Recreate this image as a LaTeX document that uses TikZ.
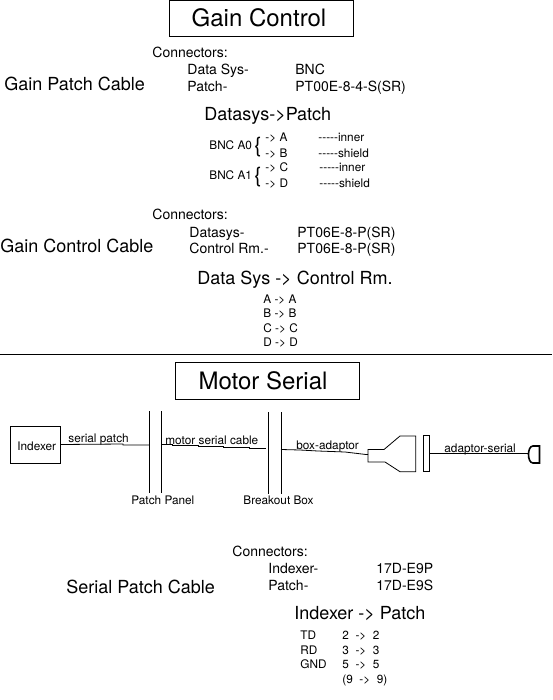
\documentclass[tikz,border=0pt]{standalone}
\usepackage{fontspec}
\setmainfont[Ligatures=TeXOff]{TeX Gyre Heros}
\begin{document}
\begin{tikzpicture}[
    x=1pt, y=-1pt,
    line width=0.8pt,
    txt/.style={anchor=base west, inner sep=0pt},
    small/.style={txt, font=\fontsize{11.8}{13}\selectfont},
    medium/.style={txt, font=\fontsize{14}{16}\selectfont},
    large/.style={txt, font=\fontsize{18}{20}\selectfont},
    title/.style={anchor=base, font=\fontsize{24}{28}\selectfont},
    titlebox/.style={draw, minimum width=184pt, minimum height=#1, inner sep=0pt},
    bar/.style={line width=0.9pt}
]
    \useasboundingbox (0, 0) rectangle (552, 700);

    % Gain Control
    \node[titlebox=36pt] (gain_box) at (261.5, 18.5) {};
    \node[title] (gain_title) at (259, 27) {Gain Control};
    \node[large]  (patch_cable) at (4, 91) {Gain Patch Cable};
    \node[medium] (conn1) at (152, 58) {Connectors:};
    \node[medium] (conn1a) at (187, 75) {Data Sys-};
    \node[medium] (conn1b) at (295, 75) {BNC};
    \node[medium] (conn1c) at (187, 92) {Patch-};
    \node[medium] (conn1d) at (295, 92) {PT00E-8-4-S(SR)};
    \node[large]  (patch_head) at (204, 121) {Datasys->Patch};

    \node[small] (bnc0) at (209, 150) {BNC A0};
    \node[small] (bnc1) at (209, 180) {BNC A1};
    \node[txt, font=\fontsize{21}{24}\selectfont] (brace0) at (254, 153) {\{};
    \node[txt, font=\fontsize{21}{24}\selectfont] (brace1) at (254, 183) {\{};
    \node[small] (pinA) at (265, 142) {-> A};
    \node[small] (pinB) at (265, 158) {-> B};
    \node[small] (pinC) at (265, 172) {-> C};
    \node[small] (pinD) at (265, 188) {-> D};
    \node[small] (wireA) at (318, 142) {-----inner};
    \node[small] (wireB) at (318, 158) {-----shield};
    \node[small] (wireC) at (319, 172) {-----inner};
    \node[small] (wireD) at (319, 188) {-----shield};

    % Gain control cable
    \node[large]  (control_cable) at (0, 253) {Gain Control Cable};
    \node[medium] (conn2) at (152, 220) {Connectors:};
    \node[medium] (conn2a) at (189, 237) {Datasys-};
    \node[medium] (conn2b) at (297, 237) {PT06E-8-P(SR)};
    \node[medium] (conn2c) at (189, 254) {Control Rm.-};
    \node[medium] (conn2d) at (297, 254) {PT06E-8-P(SR)};
    \node[large]  (control_head) at (197, 284) {Data Sys -> Control Rm.};
    \node[small] (mapA) at (263, 303) {A -> A};
    \node[small] (mapB) at (263, 317) {B -> B};
    \node[small] (mapC) at (263, 332) {C -> C};
    \node[small] (mapD) at (263, 346) {D -> D};

    \coordinate (rule_l) at (0, 354);
    \coordinate (rule_r) at (552, 354);
    \draw (rule_l) -- (rule_r);

    % Motor Serial
    \node[titlebox=36.5pt] (motor_box) at (267.5, 380.8) {};
    \node[title] (motor_title) at (263, 389.5) {Motor Serial};

    \coordinate (panel1_t) at (149.5, 411);
    \coordinate (panel1_b) at (149.5, 493);
    \coordinate (panel2_t) at (161.5, 411);
    \coordinate (panel2_b) at (161.5, 493);
    \coordinate (box_t) at (268.5, 412);
    \coordinate (box_b) at (268.5, 494);
    \coordinate (box2_t) at (281, 412);
    \coordinate (box2_b) at (281, 494);
    \draw[bar] (panel1_t) -- (panel1_b);
    \draw[bar] (panel2_t) -- (panel2_b);
    \draw[bar] (box_t) -- (box_b);
    \draw[bar] (box2_t) -- (box2_b);

    \node[draw, minimum width=50pt, minimum height=37pt, inner sep=0pt] (indexer) at (35, 444.5) {};
    \node[small] (indexer_label) at (17, 450) {Indexer};

    % Connector at the end of the cable
    \draw (368, 449.5) -- (384, 449.5) -- (400, 436) -- (415.7, 436) -- (415.7, 471.7)
        -- (400, 471.7) -- (385, 462) -- (368, 462) -- cycle;
    \node[draw, minimum width=6pt, minimum height=36pt, inner sep=0pt] (plate) at (426.7, 453) {};
    \coordinate (plug) at (528.5, 453);
    \draw[line width=1.6pt] (539.5, 446) -- (533, 446) .. controls (527, 446) and (527, 463) .. (533, 463) -- (539.5, 463) -- cycle;

    % Cables
    \draw (indexer.east) -- (123, 444) -- (123, 445) -- (panel1_t |- 0, 445);
    \draw (panel2_t |- 0, 444) -- (172, 444) -- (172, 445.5) -- (198, 445.5) -- (198, 446.5)
        -- (223, 446.5) -- (223, 447.5) -- (249, 447.5) -- (249, 448.5) -- (266, 448.5);
    \draw (box2_t |- 0, 449.5) -- (300, 450) -- (318, 451) -- (345, 452) -- (366, 454.5) -- (368, 454.5);
    \draw (plate.east |- plug) -- (plug);

    % Cable labels
    \node[small] (serial_patch) at (68, 442) {serial patch};
    \node[small] (motor_cable) at (165, 444) {motor serial cable};
    \node[small] (box_adaptor) at (296, 449) {box-adaptor};
    \node[small] (adaptor_serial) at (444, 452) {adaptor-serial};
    \node[small] (panel_label) at (131, 504) {Patch Panel};
    \node[small] (box_label) at (243, 504) {Breakout Box};

    % Serial patch cable
    \node[large]  (serial_cable) at (66, 593) {Serial Patch Cable};
    \node[medium] (conn3) at (232, 556) {Connectors:};
    \node[medium] (conn3a) at (268, 573) {Indexer-};
    \node[medium] (conn3b) at (376, 573) {17D-E9P};
    \node[medium] (conn3c) at (268, 590) {Patch-};
    \node[medium] (conn3d) at (376, 590) {17D-E9S};
    \node[large]  (serial_head) at (294, 619) {Indexer -> Patch};
    \node[small] (td) at (300, 639) {TD};
    \node[small] (rd) at (300, 654) {RD};
    \node[small] (gnd) at (300, 668) {GND};
    \node[small] (pin2) at (342, 639) {2\ \ ->\ \ 2};
    \node[small] (pin3) at (342, 654) {3\ \ ->\ \ 3};
    \node[small] (pin5) at (342, 668) {5\ \ ->\ \ 5};
    \node[small] (pin9) at (342, 683) {(9\ \ ->\ \ 9)};
\end{tikzpicture}
\end{document}
